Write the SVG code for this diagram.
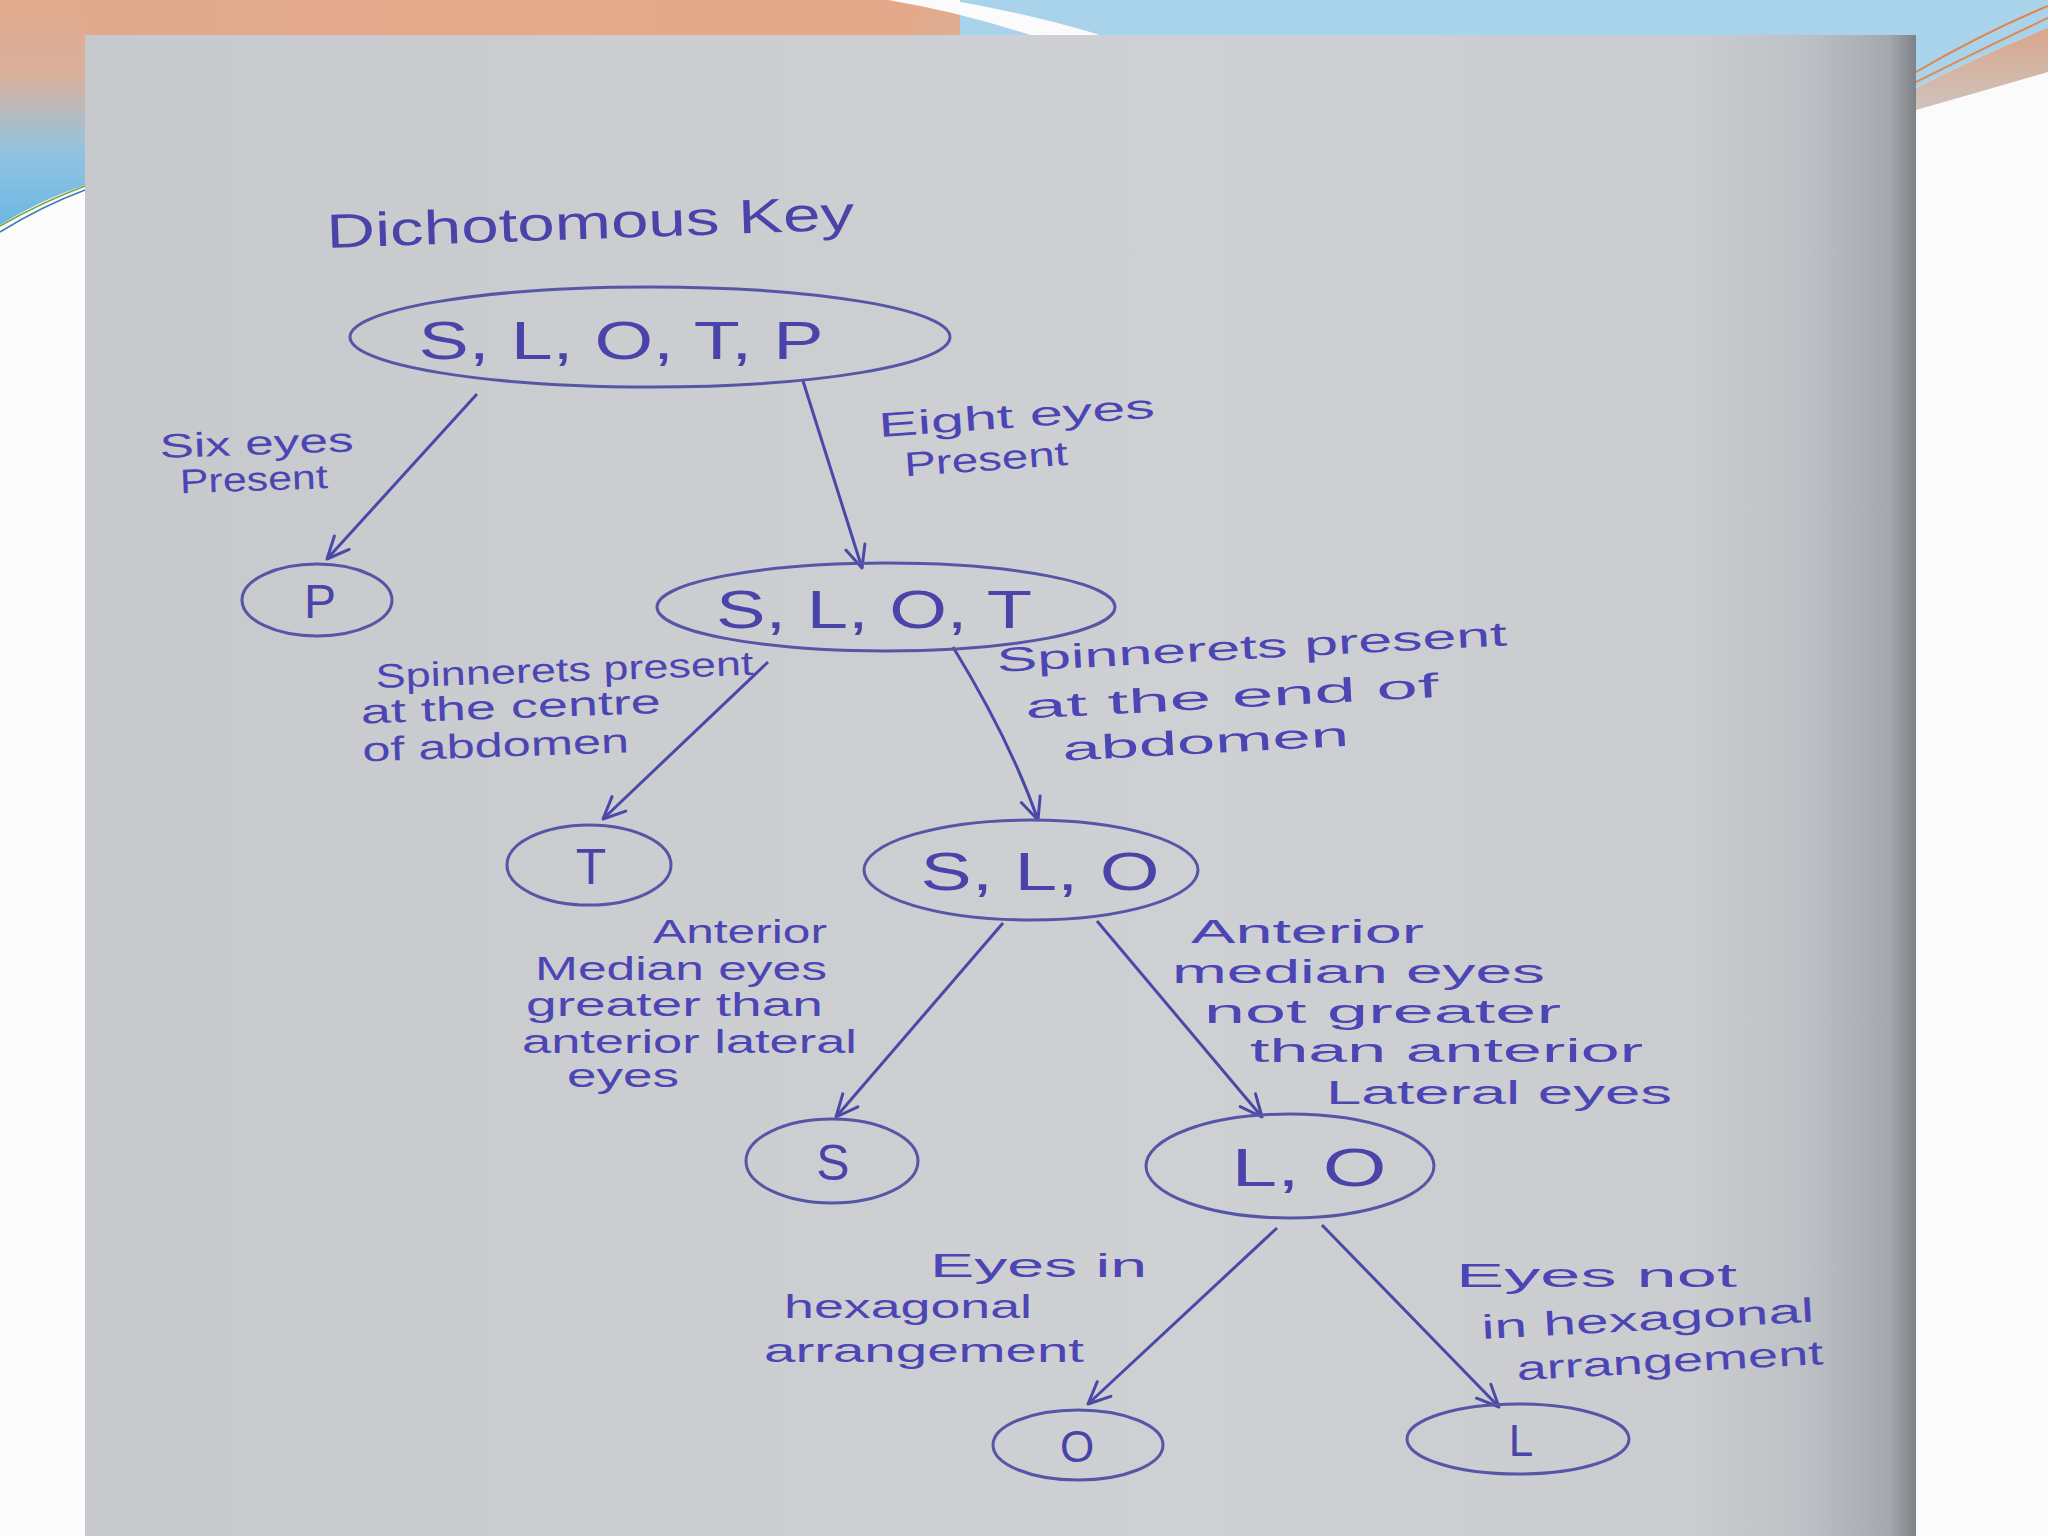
<svg xmlns="http://www.w3.org/2000/svg" width="2048" height="1536" viewBox="0 0 2048 1536">
<defs>
<linearGradient id="gLeft" x1="0" y1="0" x2="0" y2="250" gradientUnits="userSpaceOnUse">
<stop offset="0" stop-color="#E4A98A"/>
<stop offset="0.3" stop-color="#D9B09C"/>
<stop offset="0.6" stop-color="#93C4E0"/>
<stop offset="1" stop-color="#5FB2E6"/>
</linearGradient>
<linearGradient id="gTop" x1="0" y1="0" x2="1" y2="0">
<stop offset="0" stop-color="#E2AA8D"/>
<stop offset="1" stop-color="#E4A98A"/>
</linearGradient>
<linearGradient id="gPeach" x1="0" y1="0" x2="0" y2="1">
<stop offset="0" stop-color="#D9A68B"/>
<stop offset="1" stop-color="#CEC3BC"/>
</linearGradient>
<linearGradient id="gPaper" x1="85" y1="0" x2="1916" y2="0" gradientUnits="userSpaceOnUse">
<stop offset="0" stop-color="#C7C9CC"/>
<stop offset="0.3" stop-color="#CBCDD0"/>
<stop offset="0.6" stop-color="#CED0D4"/>
<stop offset="0.88" stop-color="#CACCD0"/>
<stop offset="0.94" stop-color="#BDC0C4"/>
<stop offset="0.985" stop-color="#A5A9AD"/>
<stop offset="1" stop-color="#7E8287"/>
</linearGradient>
<marker id="arr" viewBox="0 0 30 30" refX="27" refY="15" markerWidth="30" markerHeight="30" markerUnits="userSpaceOnUse" orient="auto">
<path d="M5,5 L27,15 L5,25" fill="none" stroke="#4B49A8" stroke-width="3" stroke-linecap="round" stroke-linejoin="round"/>
</marker>
<style>
.node{fill:none;stroke:#5756A6;stroke-width:3}
.nt{font-family:"Liberation Sans","DejaVu Sans",sans-serif;fill:#4A44AA;text-anchor:middle}
.edge{fill:none;stroke:#4B49A8;stroke-width:3;marker-end:url(#arr)}
.lab{font-family:"Liberation Sans","DejaVu Sans",sans-serif;fill:#4C45B4;font-size:34px}
</style>
</defs>

<!-- slide background -->
<rect x="0" y="0" width="2048" height="1536" fill="#FBFBFC"/>
<path d="M0,0 L905,0 Q990,14 1070,35 L85,35 L85,185 Q40,200 0,225 Z" fill="url(#gLeft)"/>
<rect x="85" y="0" width="830" height="35" fill="url(#gTop)"/>
<rect x="960" y="0" width="1088" height="35" fill="#A9D3EA"/>
<path d="M1916,0 L2048,0 L2048,28 Q1980,55 1916,88 Z" fill="#A9D3EA"/>
<path d="M1916,88 Q1980,55 2048,28 L2048,72 Q1980,92 1916,110 Z" fill="url(#gPeach)"/>
<path d="M1916,72 Q1985,32 2048,6" fill="none" stroke="#E0844A" stroke-width="2"/>
<path d="M1916,82 Q1990,45 2048,18" fill="none" stroke="#E08A52" stroke-width="2"/>
<path d="M888,0 L950,0 Q1030,14 1100,35 L1030,35 Q960,12 888,0 Z" fill="#FBFBFC"/>
<path d="M0,238 Q40,210 85,188 L85,200 Q40,222 0,252 Z" fill="#FBFBFC"/>
<path d="M0,226 Q42,202 85,186" fill="none" stroke="#7FA443" stroke-width="1.5"/>
<path d="M0,232 Q42,206 85,190" fill="none" stroke="#3D7DB0" stroke-width="1.5"/>

<!-- photographed paper -->
<rect x="85" y="35" width="1831" height="1501" fill="url(#gPaper)"/>

<!-- title -->
<text id="title" x="327" y="248" font-family="Liberation Sans, DejaVu Sans, sans-serif" font-size="48" fill="#4A44AA" textLength="528" lengthAdjust="spacingAndGlyphs" transform="rotate(-2 327 248)">Dichotomous  Key</text>

<!-- connectors -->
<g id="connectors">
<path id="e-root-P" class="edge" d="M477,394 L327,559"/>
<path id="e-root-SLOT" class="edge" d="M803,381 L862,568"/>
<path id="e-SLOT-T" class="edge" d="M768,662 L603,819"/>
<path id="e-SLOT-SLO" class="edge" d="M953,647 Q1010,740 1038,820"/>
<path id="e-SLO-S" class="edge" d="M1003,923 L836,1117"/>
<path id="e-SLO-LO" class="edge" d="M1097,921 L1262,1117"/>
<path id="e-LO-O" class="edge" d="M1277,1228 L1088,1404"/>
<path id="e-LO-L" class="edge" d="M1322,1225 L1499,1407"/>
</g>

<!-- edge labels -->
<g id="labels">
<g transform="rotate(-2 160 458)">
<text class="lab" x="160" y="458" font-size="30" textLength="194" lengthAdjust="spacingAndGlyphs">Six eyes</text>
<text class="lab" x="179" y="494" font-size="30" textLength="148" lengthAdjust="spacingAndGlyphs">Present</text>
</g>
<g transform="rotate(-4 879 435)">
<text class="lab" x="879" y="437" font-size="38" textLength="277" lengthAdjust="spacingAndGlyphs">Eight eyes</text>
<text class="lab" x="902" y="478" font-size="38" textLength="164" lengthAdjust="spacingAndGlyphs">Present</text>
</g>
<g transform="rotate(-2 376 686)">
<text class="lab" x="376" y="688" font-size="30" textLength="378" lengthAdjust="spacingAndGlyphs">Spinnerets present</text>
<text class="lab" x="360" y="723" font-size="30" textLength="300" lengthAdjust="spacingAndGlyphs">at the centre</text>
<text class="lab" x="360" y="761" font-size="30" textLength="267" lengthAdjust="spacingAndGlyphs">of abdomen</text>
</g>
<g transform="rotate(-3 997 668)">
<text class="lab" x="997" y="672" font-size="40" textLength="511" lengthAdjust="spacingAndGlyphs">Spinnerets present</text>
<text class="lab" x="1023" y="720" font-size="40" textLength="414" lengthAdjust="spacingAndGlyphs">at the end of</text>
<text class="lab" x="1058" y="764" font-size="40" textLength="287" lengthAdjust="spacingAndGlyphs">abdomen</text>
</g>
<text class="lab" x="653" y="943" font-size="31" textLength="174" lengthAdjust="spacingAndGlyphs">Anterior</text>
<text class="lab" x="535" y="980" font-size="31" textLength="292" lengthAdjust="spacingAndGlyphs">Median eyes</text>
<text class="lab" x="526" y="1016" font-size="31" textLength="297" lengthAdjust="spacingAndGlyphs">greater than</text>
<text class="lab" x="522" y="1053" font-size="31" textLength="335" lengthAdjust="spacingAndGlyphs">anterior lateral</text>
<text class="lab" x="567" y="1087" font-size="30" textLength="112" lengthAdjust="spacingAndGlyphs">eyes</text>

<text class="lab" x="1191" y="943" font-size="36" textLength="233" lengthAdjust="spacingAndGlyphs">Anterior</text>
<text class="lab" x="1172" y="983" font-size="36" textLength="373" lengthAdjust="spacingAndGlyphs">median eyes</text>
<text class="lab" x="1204" y="1023" font-size="36" textLength="357" lengthAdjust="spacingAndGlyphs">not greater</text>
<text class="lab" x="1250" y="1062" font-size="36" textLength="393" lengthAdjust="spacingAndGlyphs">than anterior</text>
<text class="lab" x="1326" y="1104" font-size="36" textLength="346" lengthAdjust="spacingAndGlyphs">Lateral eyes</text>

<text class="lab" x="930" y="1277" font-size="42" textLength="217" lengthAdjust="spacingAndGlyphs">Eyes in</text>
<text class="lab" x="784" y="1318" font-size="34" textLength="248" lengthAdjust="spacingAndGlyphs">hexagonal</text>
<text class="lab" x="764" y="1362" font-size="34" textLength="320" lengthAdjust="spacingAndGlyphs">arrangement</text>

<text class="lab" x="1456" y="1287" font-size="42" textLength="281" lengthAdjust="spacingAndGlyphs">Eyes not</text>
<g transform="rotate(-3 1482 1339)">
<text class="lab" x="1482" y="1339" font-size="38" textLength="333" lengthAdjust="spacingAndGlyphs">in hexagonal</text>
<text class="lab" x="1515" y="1382" font-size="34" textLength="307" lengthAdjust="spacingAndGlyphs">arrangement</text>
</g>
</g>

<!-- nodes -->
<g id="n-root">
<ellipse class="node" cx="650" cy="337" rx="300" ry="50"/>
<text class="nt" x="621" y="359" font-size="54" textLength="405" lengthAdjust="spacingAndGlyphs">S, L, O, T, P</text>
</g>
<g id="n-P">
<ellipse class="node" cx="317" cy="600" rx="75" ry="36"/>
<text class="nt" x="320" y="618" font-size="48">P</text>
</g>
<g id="n-SLOT">
<ellipse class="node" cx="886" cy="607" rx="229" ry="44"/>
<text class="nt" x="874" y="628" font-size="54" textLength="316" lengthAdjust="spacingAndGlyphs">S, L, O, T</text>
</g>
<g id="n-T">
<ellipse class="node" cx="589" cy="865" rx="82" ry="40"/>
<text class="nt" x="591" y="884" font-size="50">T</text>
</g>
<g id="n-SLO">
<ellipse class="node" cx="1031" cy="870" rx="167" ry="50"/>
<text class="nt" x="1040" y="890" font-size="54" textLength="239" lengthAdjust="spacingAndGlyphs">S, L, O</text>
</g>
<g id="n-S">
<ellipse class="node" cx="832" cy="1161" rx="86" ry="42"/>
<text class="nt" x="833" y="1180" font-size="50">S</text>
</g>
<g id="n-LO">
<ellipse class="node" cx="1290" cy="1166" rx="144" ry="52"/>
<text class="nt" x="1309" y="1186" font-size="54" textLength="155" lengthAdjust="spacingAndGlyphs">L, O</text>
</g>
<g id="n-O">
<ellipse class="node" cx="1078" cy="1445" rx="85" ry="35"/>
<text class="nt" x="1077" y="1462" font-size="44">O</text>
</g>
<g id="n-L">
<ellipse class="node" cx="1518" cy="1439" rx="111" ry="35"/>
<text class="nt" x="1521" y="1456" font-size="44">L</text>
</g>
</svg>
